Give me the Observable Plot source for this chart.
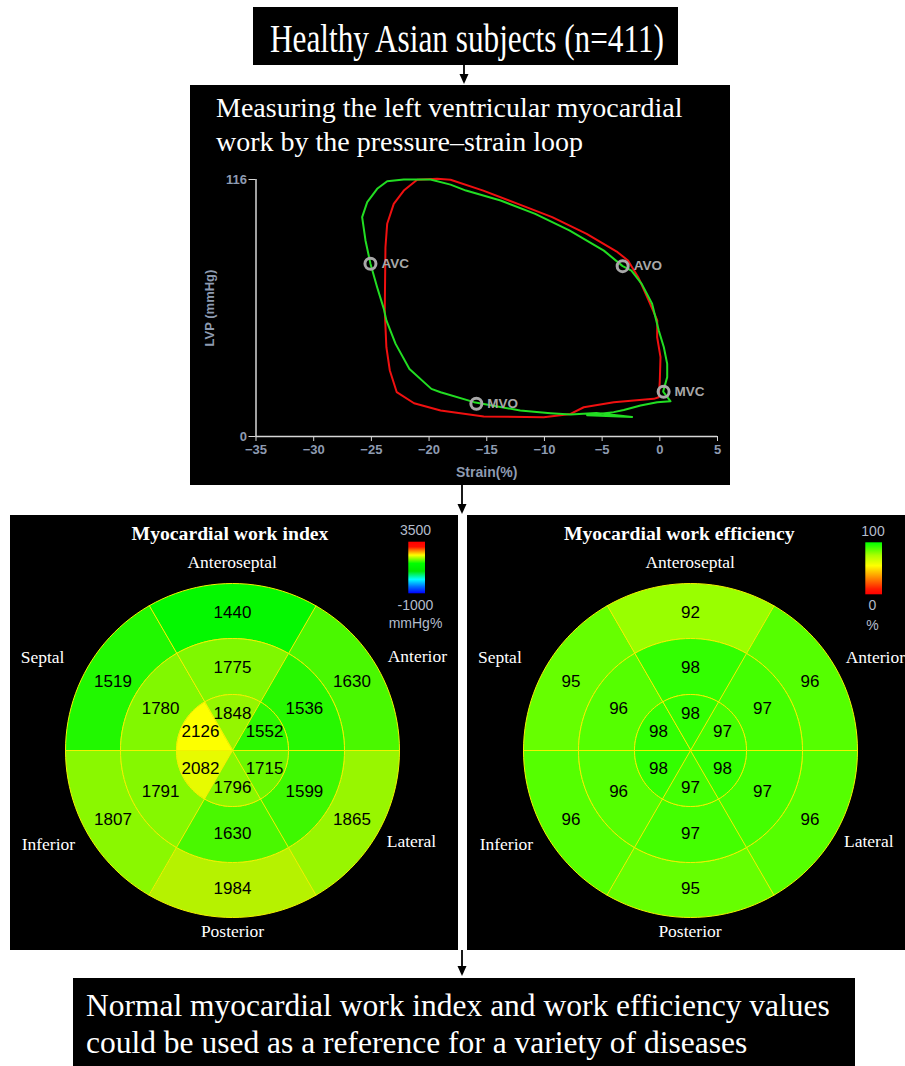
<!DOCTYPE html>
<html>
<head>
<meta charset="utf-8">
<script src="https://cdn.jsdelivr.net/npm/d3@7"></script>
<script src="https://cdn.jsdelivr.net/npm/@observablehq/plot@0.6"></script>
<style>
  html, body { margin: 0; padding: 0; background: #fff; }
  #page { position: relative; width: 905px; height: 1066px; overflow: hidden; background: #fff; }
  .mount { position: absolute; }
  .mount svg { display: block; max-width: none; }
</style>
</head>
<body>
<div id="page"></div>
<script>
// ---------------- DATA ----------------
// Pressure–strain loop (strain %, LV pressure mmHg)
const strainTicks = [-35, -30, -25, -20, -15, -10, -5, 0, 5];
const pressureTicks = [0, 116];

const greenStrain = [0.29, 0.64, 0.64, 0.35, -0.09, -0.67, -1.57, -2.46, -3.22, -4.85, -7.84, -10.8, -13.8, -16.8, -18.14, -19.88, -22.19, -23.63, -24.5, -25.36, -25.8, -25.51, -25.08, -24.5, -23.92, -23.7, -22.9, -21.7, -19.8, -19.0, -16.1, -12.1, -9.47, -7.74, -5.5, -2.4, -6.3, -4.0, -3.12, -1.67, -0.23, 0.93];
const greenPressure = [20.3, 26.8, 32.8, 40.3, 47.8, 59.9, 68.9, 74.9, 76.9, 83.9, 93.0, 100.5, 106.5, 111.0, 113.7, 116.0, 116.0, 115.2, 111.8, 105.8, 99.0, 88.5, 78.0, 67.4, 57.6, 52.4, 41.8, 30.5, 21.5, 20.0, 15.5, 11.7, 10.5, 9.9, 10.6, 8.8, 9.6, 11.0, 12.0, 14.0, 15.5, 15.9];

const redStrain = [-0.09, 0.0, 0.06, -0.23, -0.22, -0.97, -1.87, -2.76, -3.66, -6.34, -9.33, -12.3, -15.3, -18.14, -19.3, -21.03, -22.19, -23.06, -23.63, -23.78, -23.84, -23.7, -23.4, -22.8, -21.3, -19.0, -15.26, -10.06, -7.74, -6.59, -3.99, -0.52];
const redPressure = [17.7, 25.3, 35.8, 44.8, 52.4, 61.4, 71.9, 79.4, 83.2, 91.5, 99.0, 105.0, 111.0, 115.9, 116.3, 115.9, 111.0, 105.0, 96.0, 85.4, 56.9, 40.3, 29.8, 20.0, 15.0, 11.7, 9.0, 8.7, 10.2, 13.2, 15.5, 17.0];

const eventLabels = ["AVC", "AVO", "MVC", "MVO"];
const eventStrain = [-25.08, -3.22, 0.33, -15.9];
const eventPressure = [78.0, 76.9, 20.2, 14.8];

// Bull's-eye segments (order of sectors)
const sectorNames = ["Anteroseptal", "Anterior", "Lateral", "Posterior", "Inferior", "Septal"];
const ringNames = ["Basal", "Mid", "Apical"];

// Myocardial work index (mmHg%)
const workIndexBasal  = [1440, 1630, 1865, 1984, 1807, 1519];
const workIndexMid    = [1775, 1536, 1599, 1630, 1791, 1780];
const workIndexApical = [1848, 1552, 1715, 1796, 2082, 2126];

// Myocardial work efficiency (%)
const efficiencyBasal  = [92, 96, 96, 95, 96, 95];
const efficiencyMid    = [98, 97, 97, 97, 96, 96];
const efficiencyApical = [98, 97, 98, 97, 98, 98];

// Colour scales
const workIndexColorDomain = [-1000, 500, 1430, 1800, 1990, 2130, 2800, 3500];
const workIndexColorRange  = ["#0000ff", "#00ffff", "#00f800", "#88f800", "#b8f200", "#ffff00", "#ff8000", "#ff0000"];
const efficiencyColorDomain = [0, 45, 86, 100];
const efficiencyColorRange  = ["#ff0000", "#ff8c00", "#ffff00", "#11ff00"];

// Legend gradient stops (top to bottom)
const workIndexLegendOffsets = [0, 0.1, 0.17, 0.26, 0.42, 0.57, 0.73, 0.87, 1];
const workIndexLegendColors  = ["#ff0000", "#ff1000", "#ff8000", "#ffff00", "#00ff00", "#00e800", "#00ffff", "#0070ff", "#0000ff"];
const efficiencyLegendOffsets = [0, 0.08, 0.25, 0.45, 0.68, 0.9, 1];
const efficiencyLegendColors  = ["#00ff00", "#33ff00", "#aaff00", "#ffff00", "#ff8c00", "#ff1a00", "#ff0000"];

// ---------------- LAYOUT ----------------
const page = d3.select("#page");
const SERIF = "'Liberation Serif', 'Times New Roman', serif";
const SANS = "'Liberation Sans', Arial, sans-serif";

const deco = page.append("svg")
  .attr("width", 905).attr("height", 1066)
  .style("position", "absolute").style("left", "0px").style("top", "0px");

const defs = deco.append("defs");
function gradient(id, offsets, colors) {
  const g = defs.append("linearGradient").attr("id", id)
    .attr("x1", 0).attr("y1", 0).attr("x2", 0).attr("y2", 1);
  offsets.forEach((o, i) => g.append("stop").attr("offset", o).attr("stop-color", colors[i]));
}
gradient("wiGrad", workIndexLegendOffsets, workIndexLegendColors);
gradient("weGrad", efficiencyLegendOffsets, efficiencyLegendColors);

function box(x, y, w, h) {
  deco.append("rect").attr("x", x).attr("y", y).attr("width", w).attr("height", h).attr("fill", "#000");
}
function arrow(x, y1, y2) {
  deco.append("line").attr("x1", x).attr("x2", x).attr("y1", y1).attr("y2", y2 - 8)
    .attr("stroke", "#000").attr("stroke-width", 1.8);
  deco.append("path").attr("d", `M${x - 4.5},${y2 - 10}L${x + 4.5},${y2 - 10}L${x},${y2}Z`).attr("fill", "#000");
}
function label(text, x, y, opts = {}) {
  const t = deco.append("text").attr("x", x).attr("y", y)
    .attr("fill", opts.fill || "#fff")
    .attr("font-family", opts.family || SERIF)
    .attr("font-size", opts.size || 17.5)
    .attr("font-weight", opts.weight || "normal")
    .attr("text-anchor", opts.anchor || "start")
    .text(text);
  if (opts.length) t.attr("textLength", opts.length).attr("lengthAdjust", "spacingAndGlyphs");
  return t;
}

// boxes
box(253, 7, 425, 58);
box(190, 85, 540, 400);
box(10, 515, 448, 435);
box(467, 515, 438, 435);
box(73, 978, 782, 88);

// arrows
arrow(464, 65, 84);
arrow(462, 485, 514);
arrow(462, 950, 976);

// texts
label("Healthy Asian subjects (n=411)", 270, 51.5, {size: 40, length: 394});
label("Measuring the left ventricular myocardial", 216, 116.7, {size: 28});
label("work by the pressure\u2013strain loop", 216, 151, {size: 28});

label("Myocardial work index", 230, 540, {size: 19.7, weight: "bold", anchor: "middle"});
label("Myocardial work efficiency", 679.3, 540, {size: 19.7, weight: "bold", anchor: "middle"});

// sector labels (left and right)
label("Anteroseptal", 232.2, 567.7, {anchor: "middle"});
label("Septal", 20.7, 663.3);
label("Anterior", 387.7, 662.3);
label("Inferior", 21.7, 850);
label("Lateral", 386.7, 846.7);
label("Posterior", 232.5, 936.7, {anchor: "middle"});

label("Anteroseptal", 690.2, 568, {anchor: "middle"});
label("Septal", 478, 663);
label("Anterior", 845.7, 663);
label("Inferior", 479.7, 850);
label("Lateral", 844, 847);
label("Posterior", 690, 937, {anchor: "middle"});

// legends
const legendText = {family: SANS, size: 14, fill: "#b3bccb", anchor: "middle"};
label("3500", 415.5, 535, legendText);
deco.append("rect").attr("x", 408.3).attr("y", 541.7).attr("width", 16.7).attr("height", 51.6).attr("fill", "url(#wiGrad)");
label("-1000", 415.5, 610, legendText);
label("mmHg%", 415.5, 628.3, legendText);

label("100", 873, 535.7, legendText);
deco.append("rect").attr("x", 865.3).attr("y", 542.3).attr("width", 16.7).attr("height", 52).attr("fill", "url(#weGrad)");
label("0", 872.5, 610, legendText);
label("%", 872.5, 630, legendText);

// bottom text
label("Normal myocardial work index and work efficiency values", 86, 1016, {size: 31.5});
label("could be used as a reference for a variety of diseases", 86, 1052.7, {size: 31.5});

function mount(node, left, top) {
  const d = page.append("div").attr("class", "mount").style("left", left + "px").style("top", top + "px");
  d.node().appendChild(node);
}

// ---------------- PRESSURE–STRAIN LOOP ----------------
const greenLoop = greenStrain.map((s, i) => ({strain: s, lvp: greenPressure[i]}));
const redLoop = redStrain.map((s, i) => ({strain: s, lvp: redPressure[i]}));
const events = eventLabels.map((l, i) => ({label: l, strain: eventStrain[i], lvp: eventPressure[i]}));

const axisColor = "#d6d6d6";
const tickTextColor = "#8e9bb1";

const loopPlot = Plot.plot({
  width: 540, height: 325,
  marginLeft: 65.5, marginRight: 13, marginTop: 19, marginBottom: 49,
  style: {background: "transparent", fontFamily: SANS, overflow: "visible"},
  x: {domain: [-35, 5]},
  y: {domain: [0, 116]},
  marks: [
    Plot.ruleY([0], {x1: -35, x2: 5, stroke: axisColor, strokeWidth: 1.5}),
    Plot.ruleX([-35], {y1: 0, y2: 116, stroke: axisColor, strokeWidth: 1.5}),
    Plot.axisX({ticks: strainTicks, tickSize: 5, tickPadding: 3, stroke: axisColor, fill: tickTextColor, fontSize: 13, fontWeight: "bold", label: null}),
    Plot.axisY({ticks: pressureTicks, tickSize: 7, tickPadding: 2, stroke: axisColor, fill: tickTextColor, fontSize: 13, fontWeight: "bold", label: null}),
    Plot.text(["Strain(%)"], {text: d => d, frameAnchor: "bottom", textAnchor: "middle", lineAnchor: "middle", dy: 36, fill: tickTextColor, fontSize: 14, fontWeight: "bold"}),
    Plot.text(["LVP (mmHg)"], {text: d => d, frameAnchor: "left", textAnchor: "middle", lineAnchor: "middle", rotate: -90, dx: -46, fill: tickTextColor, fontSize: 13, fontWeight: "bold"}),
    Plot.line(redLoop, {x: "strain", y: "lvp", stroke: "#f01010", strokeWidth: 2, curve: "linear-closed"}),
    Plot.line(greenLoop, {x: "strain", y: "lvp", stroke: "#22dd22", strokeWidth: 2, curve: "linear-closed"}),
    Plot.dot(events, {x: "strain", y: "lvp", r: 5.5, stroke: "#a8a8a8", strokeWidth: 3, fill: "none"}),
    Plot.text(events, {x: "strain", y: "lvp", text: "label", dx: 11, textAnchor: "start", fill: "#a8a8a8", fontSize: 13.5, fontWeight: "bold"})
  ]
});
mount(loopPlot, 190, 160);

// ---------------- BULL'S-EYES ----------------
const ringInner = [112, 56, 0];
const ringOuter = [167, 112, 56];
const ringLabelRadius = [138, 83, 37];

function bullseye(ringValues, colorDomain, colorRange) {
  const pts = [];
  const labels = [];
  ringValues.forEach((vals, r) => {
    vals.forEach((v, s) => {
      const mid = 90 - 60 * s;
      const id = ringNames[r] + "-" + sectorNames[s];
      const steps = 24;
      for (let k = 0; k <= steps; k++) {
        const a = (mid - 30 + 60 * k / steps) * Math.PI / 180;
        pts.push({id, value: v, x: ringOuter[r] * Math.cos(a), y: ringOuter[r] * Math.sin(a)});
      }
      if (ringInner[r] > 0) {
        for (let k = steps; k >= 0; k--) {
          const a = (mid - 30 + 60 * k / steps) * Math.PI / 180;
          pts.push({id, value: v, x: ringInner[r] * Math.cos(a), y: ringInner[r] * Math.sin(a)});
        }
      } else {
        pts.push({id, value: v, x: 0, y: 0});
      }
      const am = mid * Math.PI / 180;
      labels.push({value: v, x: ringLabelRadius[r] * Math.cos(am), y: ringLabelRadius[r] * Math.sin(am)});
    });
  });
  return Plot.plot({
    width: 348, height: 348, margin: 0,
    style: {background: "transparent", fontFamily: SANS, overflow: "visible"},
    x: {domain: [-174, 174], axis: null},
    y: {domain: [-174, 174], axis: null},
    color: {type: "linear", domain: colorDomain, range: colorRange, interpolate: "rgb"},
    marks: [
      Plot.line(pts, {x: "x", y: "y", z: "id", fill: "value", stroke: "#f2f200", strokeWidth: 1, curve: "linear-closed"}),
      Plot.text(labels, {x: "x", y: "y", text: d => String(d.value), fill: "#000", fontSize: 17})
    ]
  });
}

mount(bullseye([workIndexBasal, workIndexMid, workIndexApical], workIndexColorDomain, workIndexColorRange), 231.7 - 174, 750 - 174);
mount(bullseye([efficiencyBasal, efficiencyMid, efficiencyApical], efficiencyColorDomain, efficiencyColorRange), 689.7 - 174, 750 - 174);
</script>
</body>
</html>
